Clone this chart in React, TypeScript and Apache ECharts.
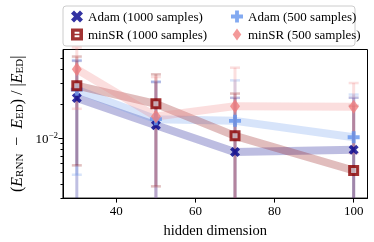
import React, { useEffect, useRef } from "react";
import * as echarts from "echarts";

// ---- data ----
const hiddenDims = [30, 50, 70, 100];
const adam1000 = [0.0225, 0.013, 0.00757, 0.00793];
const adam1000Err = [0.025, 0.018, 0.015, 0.0147];
const adam500 = [0.0266, 0.0147, 0.0142, 0.0102];
const adam500Err = [0.0218, 0.0167, 0.0179, 0.0139];
const minsr1000 = [0.0288, 0.02, 0.0105, 0.00523];
const minsr1000Err = [0.023, 0.0162, 0.0141, 0.014];
const minsr500 = [0.0401, 0.0155, 0.0191, 0.0189];
const minsr500Err = [0.022, 0.0188, 0.0223, 0.0115];

const xTicks = [40, 60, 80, 100];
const yMajorTicks = [0.01];
const yMinorTicks = [0.003, 0.004, 0.005, 0.006, 0.007, 0.008, 0.009, 0.02, 0.03, 0.04, 0.05];

const FONT = "Liberation Serif";

const X_PATH = "path://M0,2.5 L2.5,0 L5,2.5 L7.5,0 L10,2.5 L7.5,5 L10,7.5 L7.5,10 L5,7.5 L2.5,10 L0,7.5 L2.5,5 Z";
const P_PATH = "path://M3.4,0 H6.6 V3.4 H10 V6.6 H6.6 V10 H3.4 V6.6 H0 V3.4 H3.4 Z";
const D_PATH = "path://M5,0 L10,7 L5,14 L0,7 Z";
const SQ_LEGEND = "path://M0,0 H10 V10 H0 Z M3,2.8 V4.3 H7 V2.8 Z M3,5.7 V7.2 H7 V5.7 Z";

function rgba(hex: string, a: number) {
  const h = hex.replace("#", "");
  const r = parseInt(h.slice(0, 2), 16);
  const g = parseInt(h.slice(2, 4), 16);
  const b = parseInt(h.slice(4, 6), 16);
  return `rgba(${r},${g},${b},${a})`;
}

const SERIES = [
  { name: "Adam (1000 samples)", values: adam1000, errs: adam1000Err, color: "#00008B", symbol: X_PATH, size: 10, itemStyle: { color: "#00008B" } },
  { name: "Adam (500 samples)", values: adam500, errs: adam500Err, color: "#6495ED", symbol: P_PATH, size: 12, itemStyle: { color: "#6495ED" } },
  { name: "minSR (1000 samples)", values: minsr1000, errs: minsr1000Err, color: "#8B0000", symbol: "rect", size: 8, itemStyle: { color: "#cdb8bd", borderColor: "#8B0000", borderWidth: 3 } },
  { name: "minSR (500 samples)", values: minsr500, errs: minsr500Err, color: "#F08080", symbol: D_PATH, size: [10, 14], itemStyle: { color: "#F08080" } },
];

export default function App() {
  const ref = useRef<HTMLDivElement>(null);
  useEffect(() => {
    document.body.style.margin = "0";
    if (!ref.current) return;
    const chart = echarts.init(ref.current, null, { renderer: "svg" });

    const series: any[] = [];
    SERIES.forEach((s) => {
      series.push({
        type: "line",
        name: s.name + " band",
        data: hiddenDims.map((x, i) => [x, s.values[i]]),
        symbol: "none",
        lineStyle: { width: 8, color: rgba(s.color, 0.26) },
        z: 1,
        silent: true,
      });
    });
    SERIES.forEach((s) => {
      series.push({
        type: "custom",
        name: s.name + " err",
        data: hiddenDims.map((x, i) => [x, s.values[i], s.errs[i]]),
        encode: { x: 0, y: 1 },
        z: 2,
        silent: true,
        renderItem: (params: any, api: any) => {
          const x = api.value(0);
          const v = api.value(1);
          const e = api.value(2);
          const cs = params.coordSys;
          const top = api.coord([x, v + e]);
          const lo = v - e;
          const hasLo = lo > 0;
          const bottomY = hasLo ? api.coord([x, lo])[1] : cs.y + cs.height;
          const stroke = rgba(s.color, 0.25);
          const children: any[] = [
            { type: "line", shape: { x1: top[0], y1: top[1], x2: top[0], y2: bottomY }, style: { stroke, lineWidth: 3 } },
            { type: "line", shape: { x1: top[0] - 5, y1: top[1], x2: top[0] + 5, y2: top[1] }, style: { stroke, lineWidth: 2.5 } },
          ];
          if (hasLo) {
            children.push({ type: "line", shape: { x1: top[0] - 5, y1: bottomY, x2: top[0] + 5, y2: bottomY }, style: { stroke, lineWidth: 2.5 } });
          }
          return { type: "group", children };
        },
      });
    });
    SERIES.forEach((s) => {
      series.push({
        type: "scatter",
        name: s.name,
        data: hiddenDims.map((x, i) => [x, s.values[i]]),
        symbol: s.symbol,
        symbolSize: s.size,
        itemStyle: s.itemStyle,
        z: 3,
      });
    });

    const textStyle = { fontFamily: FONT, fontSize: 13, color: "#000" };

    chart.setOption({
      animation: false,
      grid: { left: 56, right: 6.5, top: 49.5, bottom: 42, show: true, borderColor: "#000", borderWidth: 1, backgroundColor: "transparent" },
      legend: [
        {
          data: [
            { name: "Adam (1000 samples)" },
            { name: "minSR (1000 samples)", icon: SQ_LEGEND, itemStyle: { color: "#8B0000", borderWidth: 0 } },
          ],
          orient: "vertical",
          left: 66,
          top: 5,
          itemWidth: 12,
          itemHeight: 12,
          itemGap: 5,
          textStyle,
        },
        {
          data: ["Adam (500 samples)", "minSR (500 samples)"],
          orient: "vertical",
          left: 226,
          top: 5,
          itemWidth: 12,
          itemHeight: 12,
          itemGap: 5,
          textStyle,
        },
      ],
      graphic: [
        {
          type: "rect",
          shape: { x: 63, y: 6, width: 292, height: 40, r: 3 },
          style: { fill: "#fff", stroke: "#cccccc", lineWidth: 1 },
          z: -1,
        },
      ],
      xAxis: {
        type: "value",
        min: 26.5,
        max: 103.5,
        name: "hidden dimension",
        nameLocation: "middle",
        nameGap: 21,
        nameTextStyle: { fontFamily: FONT, fontSize: 14.5, color: "#000" },
        axisLine: { lineStyle: { color: "#000", width: 1 } },
        axisTick: { customValues: xTicks, length: 4.5, lineStyle: { color: "#000" } },
        axisLabel: { customValues: xTicks, fontFamily: FONT, fontSize: 13, color: "#000", margin: 6 },
        splitLine: { show: false },
      },
      yAxis: [
        {
          type: "log",
          min: 0.003,
          max: 0.0597,
          name: "{p|(}{e|E}{s|RNN}{p|  −  }{e|E}{s|ED}{p|) / |}{e|E}{s|ED}{p||}",
          nameLocation: "middle",
          nameRotate: 90,
          nameGap: 26,
          nameTextStyle: {
            fontFamily: FONT,
            color: "#000",
            rich: {
              p: { fontFamily: FONT, fontSize: 16, color: "#000" },
              e: { fontFamily: FONT, fontSize: 16, fontStyle: "italic", color: "#000" },
              s: { fontFamily: FONT, fontSize: 11, color: "#000", padding: [6, 0, 0, 0] },
            },
          },
          axisLine: { lineStyle: { color: "#000", width: 1 } },
          axisTick: { customValues: yMajorTicks, length: 4.5, lineStyle: { color: "#000" } },
          axisLabel: {
            customValues: yMajorTicks,
            formatter: () => "{b|10}{u|−2}",
            margin: 5,
            rich: {
              b: { fontFamily: FONT, fontSize: 13, color: "#000" },
              u: { fontFamily: FONT, fontSize: 9, color: "#000", padding: [0, 0, 7, 0] },
            },
          },
          splitLine: { show: false },
        },
        {
          type: "log",
          min: 0.003,
          max: 0.0597,
          position: "left",
          axisLine: { show: false },
          axisTick: { customValues: yMinorTicks, length: 2.5, lineStyle: { color: "#000" } },
          axisLabel: { show: false },
          splitLine: { show: false },
        },
      ],
      series,
    });
    return () => chart.dispose();
  }, []);
  return <div ref={ref} style={{ position: "fixed", left: 0, top: 0, width: 374, height: 242 }} />;
}
